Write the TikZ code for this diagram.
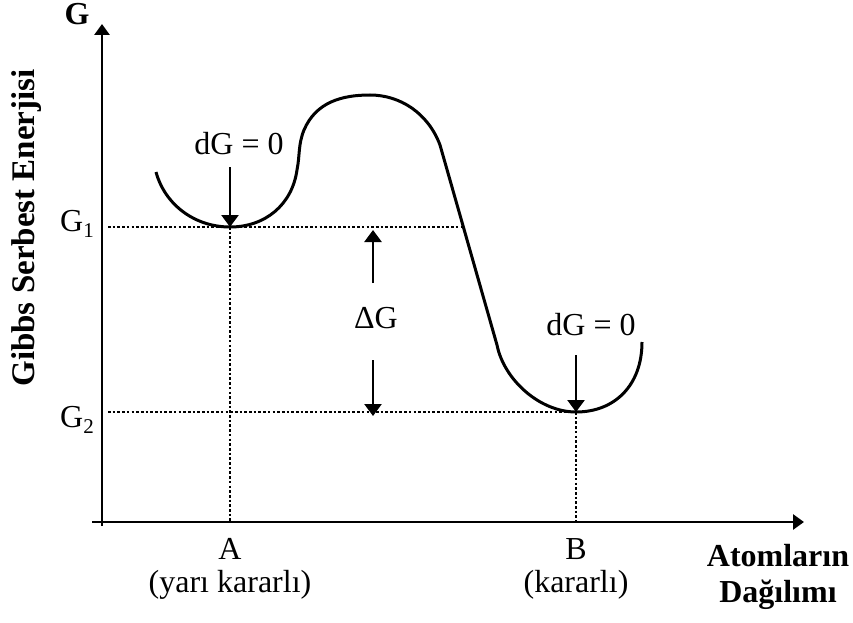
\documentclass[tikz,border=0pt]{standalone}
\usepackage{fontspec}
\setmainfont{Liberation Serif}
\usetikzlibrary{arrows.meta}
\begin{document}
\begin{tikzpicture}[x=1pt,y=-1pt,
  lbl/.style={font=\fontsize{32}{36}\selectfont, inner sep=0pt},
  blbl/.style={font=\fontsize{32}{36}\selectfont\bfseries, inner sep=0pt},
  ax/.style={line width=2.8pt, -{Triangle[length=11pt,width=15pt]}},
  arr/.style={line width=2.6pt, -{Triangle[length=12pt,width=17pt]}},
  dots/.style={line width=2.5pt, dash pattern=on 2.6pt off 2.1pt},
  crv/.style={line width=3pt, line join=round}]
\useasboundingbox (0,0) rectangle (853,623);
% axes
\coordinate (yb) at (102,526);
\coordinate (yt) at (102,24);
\coordinate (xl) at (92,522);
\coordinate (xr) at (804,522);
\draw[ax] (yb) -- (yt);
\draw[ax] (xl) -- (xr);
% key points
\coordinate (g1l) at (108,227);
\coordinate (g1r) at (463,227);
\coordinate (g2l) at (108,412);
\coordinate (g2r) at (576,412);
\coordinate (minA) at (230,227);
\coordinate (axA) at (230,522);
\coordinate (minB) at (576,412);
\coordinate (axB) at (576,522);
% dotted guides
\draw[dots] (g1l) -- (g1r);
\draw[dots] (g2l) -- (g2r);
\draw[dots] (minA) -- (axA);
\draw[dots] (minB) -- (axB);
% energy curve
\draw[crv] (156,172) .. controls (165,205) and (195,227) .. (230,227)
  .. controls (265,227) and (292,205) .. (297,170)
  .. controls (300,155) and (298,145) .. (304,130)
  .. controls (316,102) and (342,95) .. (370,95)
  .. controls (400,95) and (428,113) .. (440,145)
  -- (497,345)
  .. controls (504,380) and (540,412) .. (576,412)
  .. controls (615,412) and (642,385) .. (642,342);
% labels
\node[blbl, anchor=base] (G) at (77,25) {G};
\node[blbl, rotate=90, font=\fontsize{33}{36}\selectfont\bfseries] (ylab) at (27,228) {Gibbs Serbest Enerjisi};
\node[lbl, anchor=base west] (G1) at (60,231) {G\raisebox{-6pt}{\fontsize{21}{21}\selectfont 1}};
\node[lbl, anchor=base west] (G2) at (60,427) {G\raisebox{-6pt}{\fontsize{21}{21}\selectfont 2}};
\node[lbl, anchor=base] (dGA) at (239,154) {dG = 0};
\node[lbl, anchor=base] (dGB) at (591,335) {dG = 0};
\node[lbl, anchor=base] (DG) at (376,328) {ΔG};
\node[lbl, anchor=base] (A) at (230,559) {A};
\node[lbl, anchor=base] (Ad) at (230,592) {(yarı kararlı)};
\node[lbl, anchor=base] (B) at (576,559) {B};
\node[lbl, anchor=base] (Bd) at (576,592) {(kararlı)};
\node[blbl, anchor=base] (xl1) at (778,566) {Atomların};
\node[blbl, anchor=base] (xl2) at (778,602) {Dağılımı};
% arrows
\coordinate (aA) at (230,167);
\coordinate (aB) at (576,355);
\coordinate (up0) at (373,283);
\coordinate (up1) at (373,230);
\coordinate (dn0) at (373,360);
\coordinate (dn1) at (373,416);
\draw[arr] (aA) -- (minA);
\draw[arr] (aB) -- (minB);
\draw[arr] (up0) -- (up1);
\draw[arr] (dn0) -- (dn1);
\end{tikzpicture}
\end{document}
